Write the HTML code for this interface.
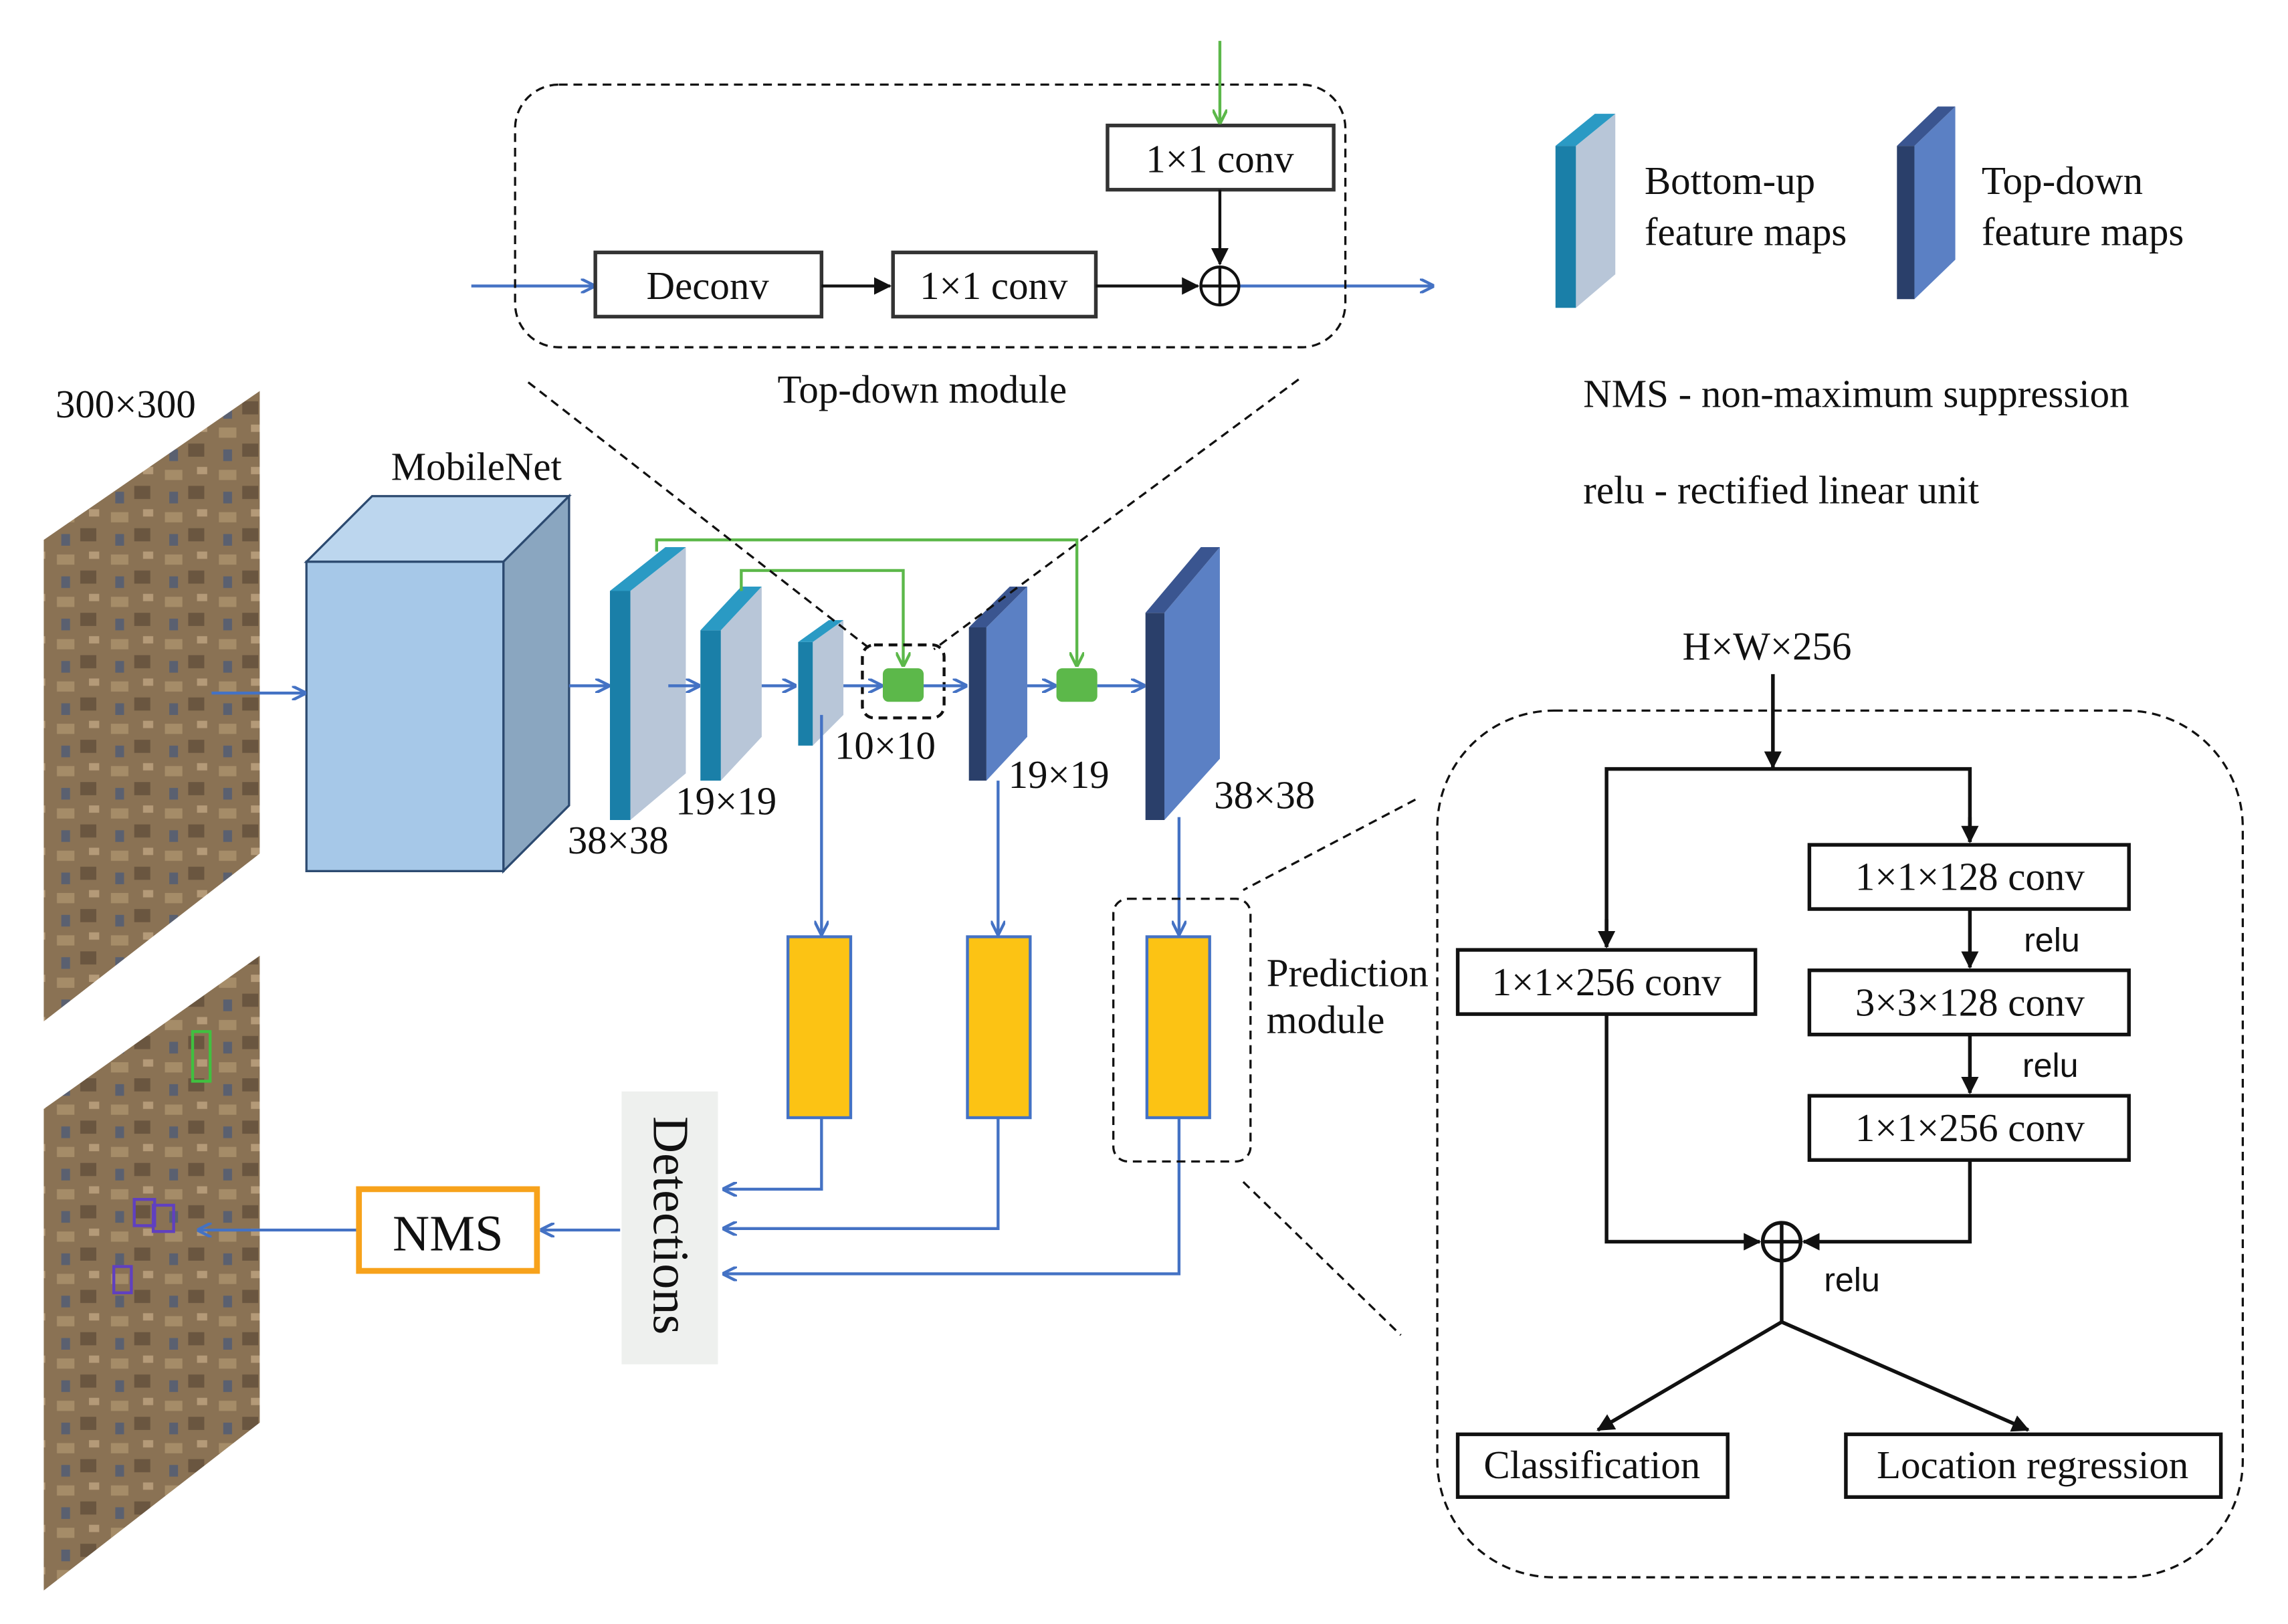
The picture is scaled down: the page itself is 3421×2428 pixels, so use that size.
<!DOCTYPE html>
<html><head><meta charset="utf-8"><style>
html,body{margin:0;padding:0;background:#fff;}
svg{display:block;}
text{font-family:"Liberation Serif",serif;font-size:27px;fill:#111;}
.s{font-family:"Liberation Sans",sans-serif;font-size:23px;}
</style></head><body>
<svg width="3421" height="2428" viewBox="0 0 1568 1113" preserveAspectRatio="none" xmlns="http://www.w3.org/2000/svg">
<defs>
<marker id="ab" markerWidth="10" markerHeight="10" refX="9" refY="5" orient="auto" markerUnits="userSpaceOnUse"><path d="M0,0 L10,5 L0,10" fill="none" stroke="#4472c4" stroke-width="2"/></marker>
<marker id="ag" markerWidth="10" markerHeight="10" refX="9" refY="5" orient="auto" markerUnits="userSpaceOnUse"><path d="M0,0 L10,5 L0,10" fill="none" stroke="#5cb84a" stroke-width="2"/></marker>
<marker id="ak" markerWidth="12" markerHeight="12" refX="11" refY="6" orient="auto" markerUnits="userSpaceOnUse"><path d="M0,0 L12,6 L0,12 Z" fill="#111"/></marker>
<pattern id="ph" width="37" height="29" patternUnits="userSpaceOnUse"><rect width="37" height="29" fill="#8a7254"/><rect x="2" y="3" width="12" height="7" fill="#a58c68"/><rect x="18" y="14" width="11" height="9" fill="#6a5640"/><rect x="24" y="1" width="7" height="5" fill="#b49a78"/><rect x="5" y="18" width="6" height="8" fill="#5a6070"/></pattern>
</defs>
<rect width="1568" height="1113" fill="#fff"/>
<polygon points="30,370 178,268 178,585 30,700" fill="url(#ph)"/>
<polygon points="30,760 178,655 178,975 30,1090" fill="url(#ph)"/>
<rect x="92" y="822" width="14" height="18" fill="none" stroke="#6040c0" stroke-width="2"/>
<rect x="105" y="826" width="14" height="18" fill="none" stroke="#6040c0" stroke-width="2"/>
<rect x="78" y="868" width="12" height="18" fill="none" stroke="#6040c0" stroke-width="2"/>
<rect x="132" y="707" width="12" height="34" fill="none" stroke="#40c040" stroke-width="2"/>
<text x="38" y="286">300×300</text>
<polygon points="210,385 255,340 390,340 345,385" fill="#bcd6ee" stroke="#2c4a70" stroke-width="1.5"/>
<polygon points="345,385 390,340 390,552 345,597" fill="#8aa6c0" stroke="#2c4a70" stroke-width="1.5"/>
<rect x="210" y="385" width="135" height="212" fill="#a6c8e8" stroke="#2c4a70" stroke-width="1.5"/>
<text x="268" y="329">MobileNet</text>
<polygon points="432,405 470,375 470,530 432,562" fill="#b8c6d8"/><polygon points="418,405 432,405 432,562 418,562" fill="#1a7fa8"/><polygon points="418,405 456,375 470,375 432,405" fill="#2a9ac4"/>
<polygon points="494,432 522,402 522,505 494,535" fill="#b8c6d8"/><polygon points="480,432 494,432 494,535 480,535" fill="#1a7fa8"/><polygon points="480,432 508,402 522,402 494,432" fill="#2a9ac4"/>
<polygon points="557,440 578,425 578,490 557,511" fill="#b8c6d8"/><polygon points="547,440 557,440 557,511 547,511" fill="#1a7fa8"/><polygon points="547,440 568,425 578,425 557,440" fill="#2a9ac4"/>
<polygon points="676,430 704,402 704,505 676,535" fill="#5b80c4"/><polygon points="664,430 676,430 676,535 664,535" fill="#2a3f6a"/><polygon points="664,430 692,402 704,402 676,430" fill="#3a5590"/>
<polygon points="798,420 836,375 836,520 798,562" fill="#5b80c4"/><polygon points="785,420 798,420 798,562 785,562" fill="#2a3f6a"/><polygon points="785,420 823,375 836,375 798,420" fill="#3a5590"/>
<text x="389" y="585">38×38</text><text x="463" y="558">19×19</text><text x="572" y="520">10×10</text><text x="691" y="540">19×19</text><text x="832" y="554">38×38</text>
<polyline points="450,378 450,370 738,370 738,456" fill="none" stroke="#5cb84a" stroke-width="2" marker-end="url(#ag)"/>
<polyline points="508,405 508,391 619,391 619,456" fill="none" stroke="#5cb84a" stroke-width="2" marker-end="url(#ag)"/>
<rect x="605" y="458" width="28" height="23" rx="4" fill="#5cb84a"/>
<rect x="724" y="458" width="28" height="23" rx="4" fill="#5cb84a"/>
<rect x="591" y="442" width="56" height="50" rx="8" fill="none" stroke="#111" stroke-width="2" stroke-dasharray="6,4"/>
<g stroke="#4472c4" stroke-width="2" fill="none" marker-end="url(#ab)">
<line x1="145" y1="475" x2="209" y2="475"/><line x1="390" y1="470" x2="417" y2="470"/><line x1="458" y1="470" x2="479" y2="470"/><line x1="522" y1="470" x2="545" y2="470"/><line x1="578" y1="470" x2="604" y2="470"/><line x1="633" y1="470" x2="662" y2="470"/><line x1="704" y1="470" x2="723" y2="470"/><line x1="752" y1="470" x2="784" y2="470"/>
<line x1="563" y1="490" x2="563" y2="640"/><line x1="684" y1="535" x2="684" y2="640"/><line x1="808" y1="560" x2="808" y2="640"/>
<polyline points="563,766 563,815 496,815"/><polyline points="684,766 684,842 496,842"/><polyline points="808,766 808,873 496,873"/>
<line x1="425" y1="843" x2="371" y2="843"/><line x1="246" y1="843" x2="136" y2="843"/>
<line x1="323" y1="196" x2="407" y2="196"/><line x1="849" y1="196" x2="982" y2="196"/>
</g>
<g fill="#fcc314" stroke="#4472c4" stroke-width="2">
<rect x="540" y="642" width="43" height="124"/><rect x="663" y="642" width="43" height="124"/><rect x="786" y="642" width="43" height="124"/></g>
<rect x="763" y="616" width="94" height="180" rx="10" fill="none" stroke="#111" stroke-width="1.5" stroke-dasharray="6,4"/>
<text x="868" y="676">Prediction</text><text x="868" y="708">module</text>
<rect x="426" y="748" width="66" height="187" fill="#eef0ee"/>
<text transform="translate(448,765) rotate(90)" style="font-size:35px">Detections</text>
<rect x="246" y="815" width="122" height="56" fill="#fff" stroke="#f7a21b" stroke-width="4"/>
<text x="307" y="857" text-anchor="middle" style="font-size:35px">NMS</text>
<rect x="353" y="58" width="569" height="180" rx="30" fill="none" stroke="#111" stroke-width="1.5" stroke-dasharray="6,4"/>
<g fill="#fff" stroke="#333" stroke-width="2.5"><rect x="408" y="173" width="155" height="44"/><rect x="612" y="173" width="139" height="44"/><rect x="759" y="86" width="155" height="44"/></g>
<text x="485" y="205" text-anchor="middle">Deconv</text><text x="681" y="205" text-anchor="middle">1×1 conv</text><text x="836" y="118" text-anchor="middle">1×1 conv</text>
<line x1="836" y1="28" x2="836" y2="84" stroke="#5cb84a" stroke-width="2" marker-end="url(#ag)"/>
<g stroke="#111" stroke-width="2" fill="none">
<line x1="563" y1="196" x2="610" y2="196" marker-end="url(#ak)"/><line x1="751" y1="196" x2="821" y2="196" marker-end="url(#ak)"/><line x1="836" y1="130" x2="836" y2="181" marker-end="url(#ak)"/>
<circle cx="836" cy="196" r="13"/><line x1="823" y1="196" x2="849" y2="196"/><line x1="836" y1="183" x2="836" y2="209"/>
</g>
<text x="632" y="276" text-anchor="middle">Top-down module</text>
<g stroke="#111" stroke-width="1.5" stroke-dasharray="6,4"><line x1="362" y1="262" x2="598" y2="446"/><line x1="890" y1="260" x2="640" y2="445"/><line x1="970" y1="548" x2="852" y2="610"/><line x1="852" y1="810" x2="960" y2="915"/></g>
<polygon points="1080,100 1107,78 1107,188 1080,211" fill="#b8c6d8"/><polygon points="1066,100 1080,100 1080,211 1066,211" fill="#1a7fa8"/><polygon points="1066,100 1093,78 1107,78 1080,100" fill="#2a9ac4"/>
<text x="1127" y="133">Bottom-up</text><text x="1127" y="168">feature maps</text>
<polygon points="1312,100 1340,73 1340,178 1312,205" fill="#5b80c4"/><polygon points="1300,100 1312,100 1312,205 1300,205" fill="#2a3f6a"/><polygon points="1300,100 1328,73 1340,73 1312,100" fill="#3a5590"/>
<text x="1358" y="133">Top-down</text><text x="1358" y="168">feature maps</text>
<text x="1085" y="279">NMS - non-maximum suppression</text>
<text x="1085" y="345">relu - rectified linear unit</text>
<rect x="985" y="487" width="552" height="594" rx="80" fill="none" stroke="#111" stroke-width="1.5" stroke-dasharray="6,4"/>
<text x="1153" y="452">H×W×256</text>
<g stroke="#111" stroke-width="2.5" fill="none">
<line x1="1215" y1="462" x2="1215" y2="526" marker-end="url(#ak)"/>
<polyline points="1101,649 1101,527 1350,527 1350,577" /><line x1="1101" y1="630" x2="1101" y2="649" marker-end="url(#ak)"/><line x1="1350" y1="560" x2="1350" y2="577" marker-end="url(#ak)"/>
<line x1="1350" y1="623" x2="1350" y2="663" marker-end="url(#ak)"/><line x1="1350" y1="709" x2="1350" y2="749" marker-end="url(#ak)"/>
<polyline points="1101,695 1101,851 1206,851" marker-end="url(#ak)"/><polyline points="1350,795 1350,851 1236,851" marker-end="url(#ak)"/>
<circle cx="1221" cy="851" r="13"/><line x1="1208" y1="851" x2="1234" y2="851"/><line x1="1221" y1="838" x2="1221" y2="864"/>
<line x1="1221" y1="864" x2="1221" y2="906"/><line x1="1221" y1="906" x2="1095" y2="980" marker-end="url(#ak)"/><line x1="1221" y1="906" x2="1390" y2="980" marker-end="url(#ak)"/>
<rect x="1240" y="579" width="219" height="44" fill="#fff"/><rect x="1240" y="665" width="219" height="44" fill="#fff"/><rect x="1240" y="751" width="219" height="44" fill="#fff"/><rect x="999" y="651" width="204" height="44" fill="#fff"/>
<rect x="999" y="983" width="185" height="43" fill="#fff"/><rect x="1265" y="983" width="257" height="43" fill="#fff"/>
</g>
<text x="1350" y="610" text-anchor="middle">1×1×128 conv</text><text x="1350" y="696" text-anchor="middle">3×3×128 conv</text><text x="1350" y="782" text-anchor="middle">1×1×256 conv</text><text x="1101" y="682" text-anchor="middle">1×1×256 conv</text>
<text x="1091" y="1013" text-anchor="middle">Classification</text><text x="1393" y="1013" text-anchor="middle">Location regression</text>
<text class="s" x="1387" y="652">relu</text><text class="s" x="1386" y="738">relu</text><text class="s" x="1250" y="885">relu</text>
</svg>
</body></html>
